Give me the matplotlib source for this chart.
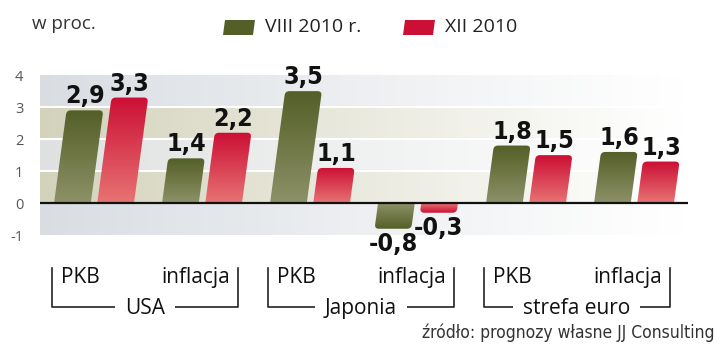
import numpy as np
import matplotlib
matplotlib.use("Agg")
from matplotlib import pyplot as plt
from matplotlib.path import Path
from matplotlib.patches import PathPatch, Polygon
from matplotlib.colors import LinearSegmentedColormap, to_rgb
from matplotlib.transforms import blended_transform_factory

groups = ["USA", "Japonia", "strefa euro"]
subcats = ["PKB", "inflacja"]
viii_2010 = [2.9, 1.4, 3.5, -0.8, 1.8, 1.6]
xii_2010 = [3.3, 2.2, 1.1, -0.3, 1.5, 1.3]
series_names = ["VIII 2010 r.", "XII 2010"]
yticks = [-1, 0, 1, 2, 3, 4]

GREEN = ("#8d9168", "#545f27")
RED = ("#e77373", "#cc0f35")
bands = [(-1, 0, "#d9dde2"), (0, 1, "#d3d2bb"), (1, 2, "#dfe1e1"),
         (2, 3, "#d3d2bb"), (3, 4, "#d9dde2")]

LABEL_FONT = ["Open Sans", "DejaVu Sans"]
NARROW = ["DejaVu Sans"]

width = 0.34
skew = 0.04
rx, ry = 0.04, 0.13


def bar_path(x0, w, h):
    r = min(ry, abs(h) / 2) * (1 if h >= 0 else -1)
    verts = [(x0, 0), (x0 + w, 0),
             (x0 + w + skew * (h - r), h - r),
             (x0 + w + skew * h, h), (x0 + w + skew * h - rx, h),
             (x0 + skew * h + rx, h),
             (x0 + skew * h, h), (x0 + skew * (h - r), h - r),
             (x0, 0)]
    codes = [Path.MOVETO, Path.LINETO, Path.LINETO, Path.CURVE3, Path.CURVE3,
             Path.LINETO, Path.CURVE3, Path.CURVE3, Path.CLOSEPOLY]
    return Path(verts, codes)


def gradient_bar(ax, xc, h, cols):
    x0 = xc - width / 2
    patch = PathPatch(bar_path(x0, width, h), fc="none", ec="none")
    ax.add_patch(patch)
    cmap = LinearSegmentedColormap.from_list("g", cols)
    grad = np.linspace(0, 1, 100).reshape(-1, 1)
    if h < 0:
        grad = grad[::-1]
    lo, hi = min(0, h), max(0, h)
    im = ax.imshow(grad, cmap=cmap, extent=[x0 - 0.2, x0 + width + 0.2, lo, hi],
                   origin="lower", aspect="auto", zorder=3, interpolation="bilinear")
    im.set_clip_path(patch)


fig = plt.figure(figsize=(7.2, 3.64), dpi=100)
ax = fig.add_axes([40 / 720, 0.354, 0.9, 160 / 364])

# background bands fading to white
for lo, hi, c in bands:
    rgba = np.zeros((1, 200, 4))
    rgba[..., :3] = to_rgb(c)
    rgba[..., 3] = np.linspace(1, 0, 200) ** 1.1
    ax.imshow(rgba, extent=[-0.5, 5.5, lo, hi], aspect="auto", zorder=0)
for y in [1, 2, 3]:
    ax.axhline(y, color="white", lw=1.5, zorder=1)

for i, (a, b) in enumerate(zip(viii_2010, xii_2010)):
    for xc, v, cols in [(i - 0.2, a, GREEN), (i + 0.2, b, RED)]:
        gradient_bar(ax, xc, v, cols)
        lab = f"{v:.1f}".replace(".", ",")
        if v >= 0:
            ax.text(xc + skew * v, v + 0.22, lab, ha="center", va="baseline",
                    fontsize=18, fontweight="bold", fontstretch="condensed",
                    family=NARROW, color="#111", zorder=5)
        else:
            ax.text(xc + skew * v, v - 0.1, lab, ha="center", va="top",
                    fontsize=18, fontweight="bold", fontstretch="condensed",
                    family=NARROW, color="#111", zorder=5)

ax.axhline(0, color="#111", lw=1.6, zorder=4)

ax.set_xlim(-0.5, 5.5)
ax.set_ylim(-1, 4)
ax.set_yticks(yticks)
ax.set_yticklabels([str(t) for t in yticks], family=LABEL_FONT, fontsize=10.5, color="#555")
ax.tick_params(axis="y", length=0, pad=12)
ax.set_xticks([])
for s in ax.spines.values():
    s.set_visible(False)

# group brackets below the axis
tr = blended_transform_factory(ax.transData, ax.transAxes)
for g, name in enumerate(groups):
    left, right = 2 * g - 0.39, 2 * g + 1.33
    ax.plot([left, left, right, right], [-0.206, -0.45, -0.45, -0.206],
            color="#222", lw=1.2, transform=tr, clip_on=False)
    ax.text(left + 0.08, -0.262, subcats[0], ha="left", va="center", transform=tr,
            fontsize=15, family=LABEL_FONT, color="#111")
    ax.text(right - 0.07, -0.262, subcats[1], ha="right", va="center", transform=tr,
            fontsize=15, family=LABEL_FONT, color="#111")
    ax.text((left + right) / 2, -0.46, name, ha="center", va="center", transform=tr,
            fontsize=15, family=LABEL_FONT, color="#111",
            bbox=dict(fc="white", ec="none", pad=7))

# header and legend
fig.text(32 / 720, 1 - 24 / 364, "w proc.", ha="left", va="center",
         fontsize=13.5, family=LABEL_FONT, color="#333")
for x0, name, cols in [(223, series_names[0], GREEN), (403, series_names[1], RED)]:
    pts = np.array([[x0, 35], [x0 + 30, 35], [x0 + 32, 20], [x0 + 2, 20]], float)
    pts[:, 0] /= 720
    pts[:, 1] = 1 - pts[:, 1] / 364
    fig.patches.append(Polygon(pts, closed=True, fc=cols[1], ec="none",
                               transform=fig.transFigure, figure=fig))
    fig.text((x0 + 42) / 720, 1 - 27 / 364, name, ha="left", va="center",
             fontsize=14, family=LABEL_FONT, color="#222")

fig.text(715 / 720, 1 - 333 / 364, "źródło: prognozy własne JJ Consulting",
         ha="right", va="center", fontsize=12.5, fontstretch="condensed",
         family=NARROW, color="#333")

fig.savefig("out.png", dpi=100)
